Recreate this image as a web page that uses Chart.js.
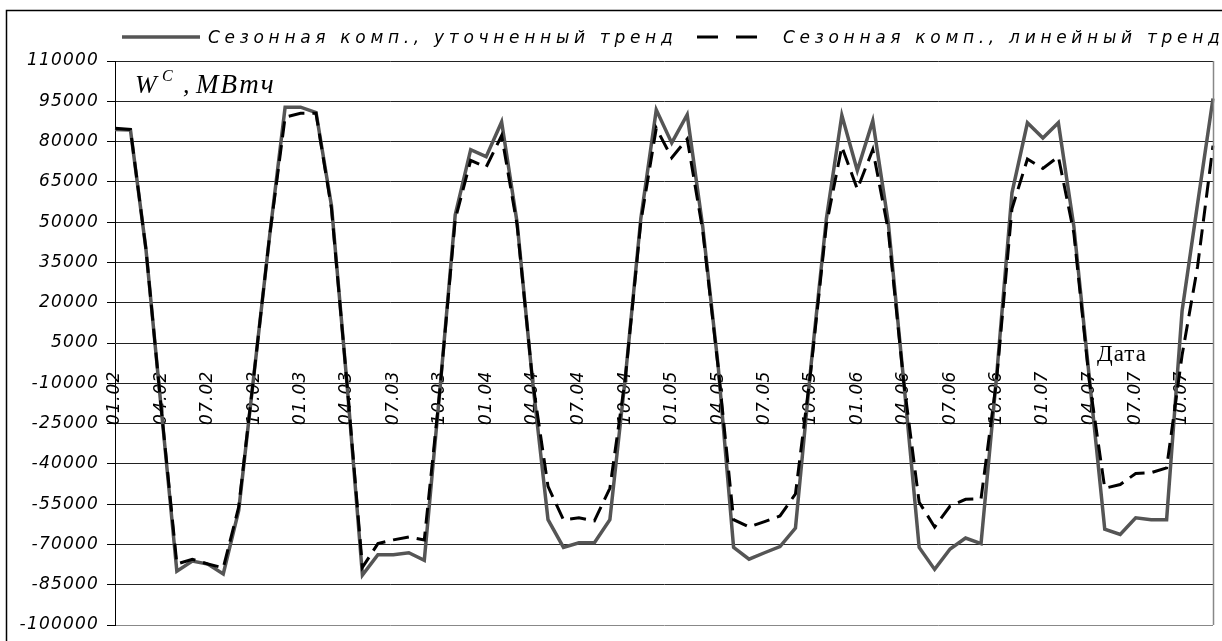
<!DOCTYPE html>
<html>
<head>
<meta charset="utf-8">
<script src="https://cdn.jsdelivr.net/npm/chart.js@4.4.1/dist/chart.umd.min.js"></script>
<style>
  html, body { margin: 0; padding: 0; background: #fff; }
  #wrap { position: relative; width: 1222px; height: 641px; }
</style>
</head>
<body>
<div id="wrap"><canvas id="c" width="1222" height="641"></canvas></div>
<script>
const categories = [
  "01.02","02.02","03.02","04.02","05.02","06.02","07.02","08.02","09.02","10.02","11.02","12.02",
  "01.03","02.03","03.03","04.03","05.03","06.03","07.03","08.03","09.03","10.03","11.03","12.03",
  "01.04","02.04","03.04","04.04","05.04","06.04","07.04","08.04","09.04","10.04","11.04","12.04",
  "01.05","02.05","03.05","04.05","05.05","06.05","07.05","08.05","09.05","10.05","11.05","12.05",
  "01.06","02.06","03.06","04.06","05.06","06.06","07.06","08.06","09.06","10.06","11.06","12.06",
  "01.07","02.07","03.07","04.07","05.07","06.07","07.07","08.07","09.07","10.07","11.07","12.07"
];

const seasonalRefined = [
  84500, 84300, 40000, -20000, -80000, -76200, -77300, -81000, -57300, -6000, 45000, 92800,
  92800, 90800, 56000, -10000, -81400, -73800, -73800, -73100, -75900, -13000, 52700, 77000,
  74400, 87300, 49900, -9200, -60800, -71100, -69400, -69400, -60800, -7800, 51300, 91800,
  79500, 90000, 48500, -3400, -71100, -75500, -73100, -70800, -63900, -3700, 51300, 89800,
  69200, 87700, 49900, -9200, -71100, -79300, -71700, -67600, -69700, -7800, 60900, 87000,
  81300, 87000, 48500, -7800, -64300, -66300, -60100, -60800, -60800, 16900, 56800, 96000
];

const seasonalLinear = [
  85000, 84500, 40000, -20000, -77300, -75500, -77300, -78700, -56000, -6000, 45000, 89100,
  90500, 90500, 55000, -10000, -78500, -69700, -68300, -67200, -68300, -13000, 51000, 73000,
  70500, 82200, 49000, -9000, -48400, -60800, -60100, -61200, -49100, -8000, 50000, 85000,
  74000, 81000, 47000, -4000, -60800, -63500, -61500, -59400, -51200, -5000, 49000, 78100,
  62300, 77000, 47000, -9500, -54300, -63500, -55700, -53200, -53000, -9000, 55000, 73500,
  70000, 74400, 46000, -9000, -49100, -47700, -43600, -43300, -41500, 400, 33400, 78500
];

const yTickValues = [110000, 95000, 80000, 65000, 50000, 35000, 20000, 5000, -10000, -25000, -40000, -55000, -70000, -85000, -100000];

const seriesNames = ["Сезонная комп., уточненный тренд", "Сезонная комп., линейный тренд"];
const yTitleMain = "W";
const yTitleSup = "C";
const yTitleComma = ",";
const yTitleUnit = "МВтч";
const xTitle = "Дата";

const SANS = "'DejaVu Sans', sans-serif";
const SERIF = "'Liberation Serif', 'DejaVu Serif', serif";

const decorPlugin = {
  id: 'decor',
  beforeDraw(chart) {
    const ctx = chart.ctx;
    ctx.letterSpacing = '1.2px';
    ctx.save();
    ctx.strokeStyle = '#000';
    ctx.lineWidth = 1.5;
    ctx.strokeRect(6.5, 10.5, 1400, 800);
    ctx.restore();
  },
  afterDraw(chart) {
    const ctx = chart.ctx;
    const a = chart.chartArea;
    ctx.save();
    // plot area right border
    ctx.strokeStyle = '#888';
    ctx.lineWidth = 1.5;
    ctx.beginPath();
    ctx.moveTo(Math.round(a.right) + 0.5, a.top);
    ctx.lineTo(Math.round(a.right) + 0.5, a.bottom);
    ctx.stroke();

    // legend
    const ds = chart.data.datasets;
    const items = [
      { d: ds[0], x0: 122, x1: 200, tx: 208 },
      { d: ds[1], x0: 697, x1: 762, tx: 783 }
    ];
    const ly = 37;
    items.forEach(it => {
      ctx.save();
      ctx.strokeStyle = it.d.borderColor;
      ctx.lineWidth = it.d.borderWidth;
      ctx.setLineDash(it.d.borderDash ? [21, 18] : []);
      ctx.beginPath();
      ctx.moveTo(it.x0, ly);
      ctx.lineTo(it.x1, ly);
      ctx.stroke();
      ctx.restore();
      ctx.save();
      ctx.letterSpacing = '4.7px';
      ctx.font = "italic 17px " + SANS;
      ctx.fillStyle = '#000';
      ctx.textBaseline = 'alphabetic';
      ctx.textAlign = 'left';
      ctx.fillText(it.d.label, it.tx, 43);
      ctx.restore();
    });

    // y title
    ctx.save();
    ctx.fillStyle = '#000';
    ctx.textBaseline = 'alphabetic';
    ctx.letterSpacing = '0px';
    ctx.font = "italic 26px " + SERIF;
    ctx.fillText(yTitleMain, 135, 93);
    ctx.font = "italic 16px " + SERIF;
    ctx.fillText(yTitleSup, 162, 81);
    ctx.font = "italic 26px " + SERIF;
    ctx.fillText(yTitleComma, 183, 93);
    ctx.letterSpacing = '2px';
    ctx.font = "italic 27px " + SERIF;
    ctx.fillText(yTitleUnit, 196, 93);
    // x title
    ctx.font = "23px " + SERIF;
    ctx.letterSpacing = '1px';
    ctx.fillText(xTitle, 1097, 361);
    ctx.restore();
    ctx.restore();
  }
};

new Chart(document.getElementById('c'), {
  type: 'line',
  data: {
    labels: categories,
    datasets: [
      {
        label: seriesNames[0],
        data: seasonalRefined,
        borderColor: '#555555',
        borderWidth: 3.5,
        pointRadius: 0,
        tension: 0,
        order: 1
      },
      {
        label: seriesNames[1],
        data: seasonalLinear,
        borderColor: '#000000',
        borderWidth: 3,
        borderDash: [16, 8],
        borderCapStyle: 'butt',
        pointRadius: 0,
        tension: 0,
        order: 0
      }
    ]
  },
  options: {
    responsive: false,
    animation: false,
    devicePixelRatio: 1,
    layout: { padding: { top: 61, right: 9, bottom: 16, left: 0 } },
    plugins: { legend: { display: false }, tooltip: { enabled: false } },
    scales: {
      x: {
        type: 'category',
        position: { y: 0 },
        offset: false,
        grid: { display: false, drawTicks: false },
        border: { display: false },
        afterFit: s => { s.paddingLeft = 0; s.paddingRight = 0; },
        ticks: {
          autoSkip: false,
          maxRotation: 90,
          minRotation: 90,
          padding: 14,
          color: '#000',
          font: { family: SANS, style: 'italic', size: 17 },
          callback: function (v, i) { return i % 3 === 0 ? this.getLabelForValue(v) : ''; }
        }
      },
      y: {
        min: -100000,
        max: 110000,
        afterBuildTicks: s => { s.ticks = yTickValues.map(v => ({ value: v })); },
        afterFit: s => { s.width = 115; s.paddingTop = 0; s.paddingBottom = 0; },
        grid: {
          color: c => (c.tick && c.tick.value === -100000) ? '#888' : '#222',
          lineWidth: 1,
          tickLength: 8,
          tickColor: '#000'
        },
        border: { color: '#000', width: 1 },
        ticks: {
          padding: 8,
          color: '#000',
          font: { family: SANS, style: 'italic', size: 17 },
          callback: v => String(v)
        }
      }
    }
  },
  plugins: [decorPlugin]
});
</script>
</body>
</html>
